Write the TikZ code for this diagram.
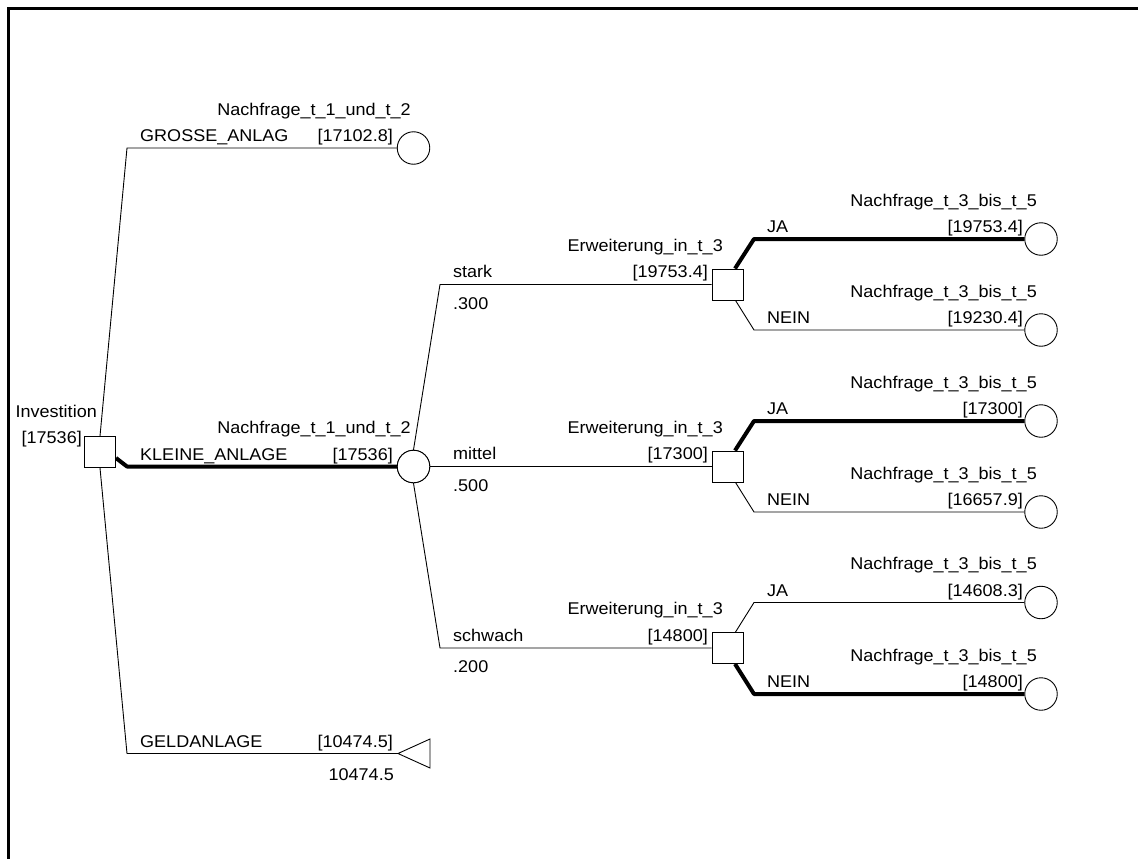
\documentclass[tikz,border=0pt]{standalone}
\usepackage{fontspec}
\setmainfont{Liberation Sans}[FakeStretch=1.06]
\begin{document}
\begin{tikzpicture}[x=1pt,y=-1pt,
  every node/.style={font=\fontsize{17}{20}\selectfont},
  lab/.style={inner sep=0pt},
  dec/.style={draw,line width=0.9pt,minimum size=31pt,inner sep=0pt,fill=white},
  chn/.style={draw,line width=0.9pt,circle,minimum size=32.5pt,inner sep=0pt,fill=white},
  br/.style={line width=0.9pt},
  opt/.style={line width=4pt,line join=round}]
\useasboundingbox (0,0) rectangle (1138,859);
\draw[line width=2.8pt] (8.7,870) -- (8.7,8.8) -- (1150,8.8);

% nodes
\node[dec] (inv) at (100,452) {};
\node[chn] (c1) at (413.5,148) {};
\node[chn] (c2) at (413.5,466.5) {};
\coordinate (tri) at (398,753.5);
\draw[line width=0.9pt,line join=miter] (tri) -- (430,739) -- (430,768) -- cycle;
\node[dec] (d1) at (727.5,284.5) {};
\node[dec] (d2) at (727.5,466.5) {};
\node[dec] (d3) at (727.5,648) {};
\node[chn] (e1) at (1041,239) {};
\node[chn] (e2) at (1041,330) {};
\node[chn] (e3) at (1041,421) {};
\node[chn] (e4) at (1041,512) {};
\node[chn] (e5) at (1041,602.5) {};
\node[chn] (e6) at (1041,694) {};

% coordinates
\coordinate (k1) at (127,148);
\coordinate (k2) at (127,466.5);
\coordinate (k3) at (127,753.5);
\coordinate (s1) at (440,284.5);
\coordinate (s3) at (440,648);
\coordinate (j1) at (754,239);
\coordinate (n1) at (754,330);
\coordinate (j2) at (754,421);
\coordinate (n2) at (754,512);
\coordinate (j3) at (754,602.5);
\coordinate (n3) at (754,694);

% connectors
\draw[br] (inv.north) -- (k1) -- (c1.west);
\draw[opt] ([yshift=-6pt]inv.east) -- (k2) -- (c2.west);
\draw[br] (inv.south) -- (k3) -- (tri);
\draw[br] (c2.north) -- (s1) -- (d1.west);
\draw[br] (c2.east) -- (d2.west);
\draw[br] (c2.south) -- (s3) -- (d3.west);
\draw[opt] ([xshift=7.5pt]d1.north) -- (j1) -- (e1.west);
\draw[br] ([xshift=8pt]d1.south) -- (n1) -- (e2.west);
\draw[opt] ([xshift=7.5pt]d2.north) -- (j2) -- (e3.west);
\draw[br] ([xshift=8pt]d2.south) -- (n2) -- (e4.west);
\draw[br] ([xshift=8pt]d3.north) -- (j3) -- (e5.west);
\draw[opt] ([xshift=7.5pt]d3.south) -- (n3) -- (e6.west);
% redraw nodes on top
\node[dec] at (inv) {};
\node[dec] at (d1) {};
\node[dec] at (d2) {};
\node[dec] at (d3) {};
\node[chn] at (c2) {};

% labels
\node[lab,anchor=base east] (tinv) at (97,417) {Investition};
\node[lab,anchor=base east] (vinv) at (82,443) {[17536]};

\node[lab,anchor=base east] (tc1) at (411,115) {Nachfrage\_t\_1\_und\_t\_2};
\node[lab,anchor=base west] (lg) at (140,141.5) {GROSSE\_ANLAG};
\node[lab,anchor=base east] (vc1) at (393,141.5) {[17102.8]};

\node[lab,anchor=base east] (tc2) at (411,433) {Nachfrage\_t\_1\_und\_t\_2};
\node[lab,anchor=base west] (lk) at (140,460) {KLEINE\_ANLAGE};
\node[lab,anchor=base east] (vc2) at (393,460) {[17536]};

\node[lab,anchor=base west] (lgeld) at (140,747.5) {GELDANLAGE};
\node[lab,anchor=base east] (vgeld) at (393,747.5) {[10474.5]};
\node[lab,anchor=base east] (pgeld) at (394,780) {10474.5};

\node[lab,anchor=base west] (ls1) at (453,277.5) {stark};
\node[lab,anchor=base west] (ps1) at (453,309) {.300};
\node[lab,anchor=base east] (td1) at (723,251) {Erweiterung\_in\_t\_3};
\node[lab,anchor=base east] (vd1) at (708,277.5) {[19753.4]};

\node[lab,anchor=base west] (ls2) at (453,459.5) {mittel};
\node[lab,anchor=base west] (ps2) at (453,491) {.500};
\node[lab,anchor=base east] (td2) at (723,433) {Erweiterung\_in\_t\_3};
\node[lab,anchor=base east] (vd2) at (708,459.5) {[17300]};

\node[lab,anchor=base west] (ls3) at (453,641) {schwach};
\node[lab,anchor=base west] (ps3) at (453,672.5) {.200};
\node[lab,anchor=base east] (td3) at (723,614.5) {Erweiterung\_in\_t\_3};
\node[lab,anchor=base east] (vd3) at (708,641) {[14800]};

% right column
\node[lab,anchor=base west] (lj1) at (767,232.5) {JA};
\node[lab,anchor=base east] (te1) at (1037,206) {Nachfrage\_t\_3\_bis\_t\_5};
\node[lab,anchor=base east] (ve1) at (1023,232.5) {[19753.4]};
\node[lab,anchor=base west] (ln1) at (767,323) {NEIN};
\node[lab,anchor=base east] (te2) at (1037,297) {Nachfrage\_t\_3\_bis\_t\_5};
\node[lab,anchor=base east] (ve2) at (1023,323) {[19230.4]};

\node[lab,anchor=base west] (lj2) at (767,414.5) {JA};
\node[lab,anchor=base east] (te3) at (1037,388) {Nachfrage\_t\_3\_bis\_t\_5};
\node[lab,anchor=base east] (ve3) at (1023,414.5) {[17300]};
\node[lab,anchor=base west] (ln2) at (767,505) {NEIN};
\node[lab,anchor=base east] (te4) at (1037,479) {Nachfrage\_t\_3\_bis\_t\_5};
\node[lab,anchor=base east] (ve4) at (1023,505) {[16657.9]};

\node[lab,anchor=base west] (lj3) at (767,596) {JA};
\node[lab,anchor=base east] (te5) at (1037,569.5) {Nachfrage\_t\_3\_bis\_t\_5};
\node[lab,anchor=base east] (ve5) at (1023,596) {[14608.3]};
\node[lab,anchor=base west] (ln3) at (767,687.5) {NEIN};
\node[lab,anchor=base east] (te6) at (1037,661) {Nachfrage\_t\_3\_bis\_t\_5};
\node[lab,anchor=base east] (ve6) at (1023,687.5) {[14800]};
\end{tikzpicture}
\end{document}
